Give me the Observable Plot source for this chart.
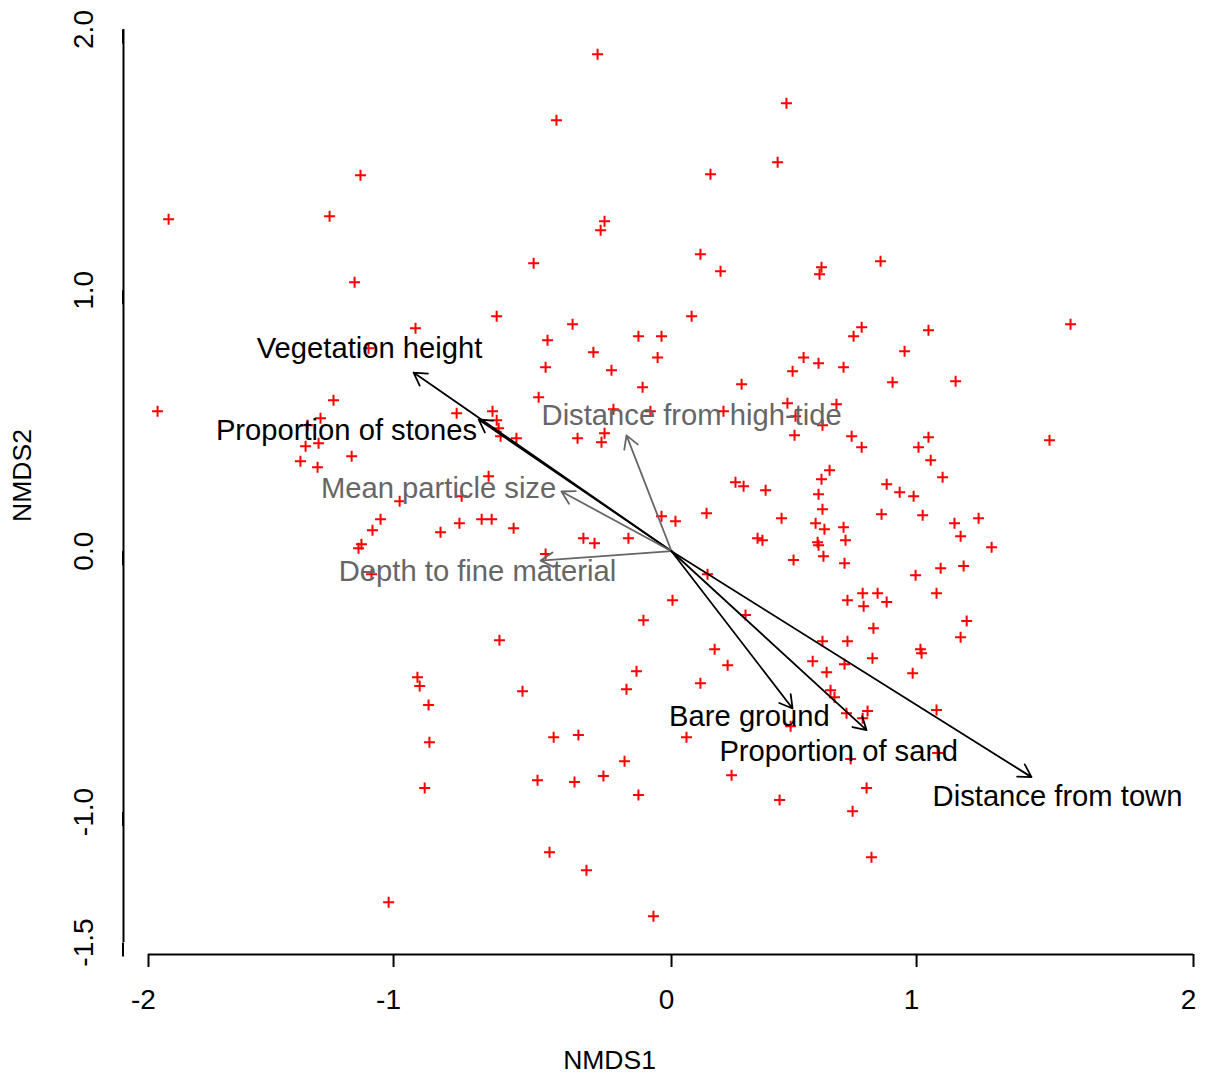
<!DOCTYPE html>
<html>
<head>
<meta charset="utf-8">
<script src="https://cdn.jsdelivr.net/npm/d3@7"></script>
<script src="https://cdn.jsdelivr.net/npm/@observablehq/plot@0.6"></script>
<style>
  body { margin: 0; background: #fff; }
  #chart svg { display: block; }
</style>
</head>
<body>
<div id="chart"></div>
<script>
// NMDS site scores (axis 1 and axis 2)
const siteX = [
  -0.266, 0.469, -0.414, 0.433, 0.159, -1.135, -1.918, -1.261, -0.241, -0.255,
  0.118, -0.496, 0.853, 0.200, 0.612, 0.604, -1.159, -0.629, 0.082, -0.356,
  0.776, 1.556, 1.043, -0.921, -0.446, -0.119, -0.036, 0.743, -1.102, -0.281,
  -0.050, 0.539, 0.951, -0.216, -0.453, 0.494, 0.600, 0.702, -0.104, -0.478,
  0.286, 0.902, 1.141, -1.245, 0.673, 0.473, -1.298, -1.351, -0.773, -0.644,
  -0.629, -0.622, -0.615, -0.558, -0.338, -0.241, -0.252, -0.209, -0.076, 0.212,
  0.506, 0.502, 0.616, 0.735, 0.776, 1.007, 1.043, 1.480, 1.051, 1.094,
  0.988, 0.931, 0.878, -1.171, -1.380, -1.310, -1.359, -1.306, -0.658, -0.755,
  0.261, 0.294, 0.384, 0.612, 0.600, 0.645, -0.978, -1.053, -1.086, -1.131,
  -1.143, -0.831, -0.763, -0.683, -0.647, -0.568, -0.317, -0.277, -0.155, -0.036,
  0.016, 0.143, 0.449, 0.351, 0.371, 0.588, 0.616, 0.624, 0.702, 0.710,
  0.596, 0.600, 0.857, 1.022, 1.137, 1.159, 1.224, 1.271, -0.453, -1.090,
  0.147, 0.498, 0.620, 0.706, 0.996, 0.004, 0.302, 0.718, 0.780, 0.841,
  0.784, 0.878, 1.087, 1.072, 1.170, -0.101, 1.181, 0.824, 0.718, 0.616,
  1.014, 1.018, 1.159, -0.619, 0.176, 0.229, -0.126, -0.162, 0.118, 0.576,
  0.706, 0.820, 0.984, -0.914, -0.906, -0.874, -0.536, 0.633, 0.649, 0.665,
  1.072, 0.800, 0.780, 0.714, -0.871, -0.424, -0.335, 0.061, 0.486, 0.245,
  1.076, 0.731, -0.169, -0.245, -0.482, -0.349, -0.888, -0.119, 0.441, 0.796,
  0.739, -0.439, -0.306, 0.816, -1.020, -0.065, -1.963
];
const siteY = [
  1.905, 1.717, 1.652, 1.491, 1.445, 1.441, 1.273, 1.284, 1.265, 1.230,
  1.138, 1.104, 1.112, 1.073, 1.089, 1.062, 1.031, 0.901, 0.901, 0.870,
  0.859, 0.870, 0.847, 0.855, 0.809, 0.824, 0.824, 0.824, 0.778, 0.763,
  0.743, 0.743, 0.767, 0.694, 0.705, 0.690, 0.721, 0.705, 0.629, 0.590,
  0.640, 0.648, 0.652, 0.579, 0.563, 0.567, 0.510, 0.483, 0.529, 0.537,
  0.502, 0.471, 0.441, 0.433, 0.433, 0.452, 0.418, 0.544, 0.537, 0.537,
  0.517, 0.445, 0.483, 0.441, 0.399, 0.399, 0.437, 0.425, 0.349, 0.284,
  0.211, 0.226, 0.257, 0.364, 0.345, 0.322, 0.402, 0.414, 0.287, 0.211,
  0.264, 0.249, 0.234, 0.276, 0.218, 0.310, 0.192, 0.123, 0.080, 0.027,
  0.011, 0.073, 0.107, 0.123, 0.123, 0.088, 0.050, 0.031, 0.050, 0.134,
  0.115, 0.146, 0.126, 0.050, 0.042, 0.107, 0.161, 0.084, 0.092, 0.042,
  0.034, 0.023, 0.142, 0.138, 0.107, 0.057, 0.126, 0.015, -0.011, -0.088,
  -0.088, -0.034, -0.019, -0.046, -0.092, -0.188, -0.245, -0.188, -0.161, -0.161,
  -0.211, -0.195, -0.065, -0.161, -0.057, -0.265, -0.268, -0.295, -0.345, -0.345,
  -0.376, -0.391, -0.330, -0.341, -0.376, -0.437, -0.460, -0.529, -0.506, -0.422,
  -0.433, -0.410, -0.468, -0.483, -0.517, -0.590, -0.537, -0.464, -0.533, -0.560,
  -0.609, -0.613, -0.640, -0.621, -0.732, -0.713, -0.705, -0.713, -0.671, -0.859,
  -0.774, -0.797, -0.805, -0.862, -0.878, -0.885, -0.908, -0.935, -0.954, -0.908,
  -0.997, -1.154, -1.223, -1.173, -1.346, -1.399, 0.537
];

// Fitted environmental vectors (arrow tips) and where their names sit
const vectorNames = [
  "Vegetation height", "Proportion of stones", "Distance from high-tide",
  "Mean particle size", "Depth to fine material", "Bare ground",
  "Proportion of sand", "Distance from town"
];
const vectorX = [-0.928, -0.694, -0.162, -0.396, -0.471, 0.494, 0.796, 1.415];
const vectorY = [0.685, 0.505, 0.444, 0.229, -0.036, -0.603, -0.686, -0.866];
const vectorLabelX = [-1.098, -1.192, 0.082, -0.838, -0.698, 0.318, 0.682, 1.509];
const vectorLabelY = [0.778, 0.464, 0.521, 0.241, -0.080, -0.636, -0.767, -0.939];
const vectorSignificant = [true, true, false, false, false, true, true, true];

const xTicks = [-2, -1, 0, 1, 2];
const yTicks = [-1.5, -1, 0, 1, 2];

// The horizontal axis is laid out unevenly: each unit step gets its own
// width. xWarp maps an NMDS1 value onto the evenly spaced x scale.
const xWarp = d3.scaleLinear().domain(xTicks).range([-2, -1.062, 0.002, 0.940, 2]);

const sites = siteX.map((x, i) => ({x, y: siteY[i]}));
const vectors = vectorNames.map((name, i) => ({
  name, x: vectorX[i], y: vectorY[i],
  lx: vectorLabelX[i], ly: vectorLabelY[i], sig: vectorSignificant[i]
}));

const ink = d => d.sig ? "#000000" : "#666666";

// stroked "+" marker (pch = 3)
const plusSymbol = {
  draw(context, size) {
    const r = Math.sqrt(size / Math.PI);
    context.moveTo(-r, 0); context.lineTo(r, 0);
    context.moveTo(0, -r); context.lineTo(0, r);
  }
};

const font = "'Liberation Sans', Arial, Helvetica, sans-serif";
const xFirst = xTicks[0], xLast = xTicks[xTicks.length - 1];
const yFirst = yTicks[0], yLast = yTicks[yTicks.length - 1];

const chart = Plot.plot({
  width: 1205,
  height: 1077,
  marginLeft: 123,
  marginRight: 110,
  marginTop: 0,
  marginBottom: 123,
  style: {fontFamily: font, background: "#fff", color: "#000"},
  x: {domain: [xFirst, xLast], range: [148, 1193]},
  y: {domain: [yFirst, yLast], range: [942, 29]},
  marks: [
    // axis lines spanning the first to the last tick
    Plot.ruleX([xWarp(xFirst)], {y1: yFirst, y2: yLast, dx: -25, stroke: "#000", strokeWidth: 2}),
    Plot.ruleY([yFirst], {x1: xWarp(xFirst), x2: xWarp(xLast), dy: 12, stroke: "#000", strokeWidth: 2}),
    // x tick marks, then their labels (set slightly left of the marks)
    Plot.axisX(xTicks.map(xWarp), {
      tickSize: 13, strokeWidth: 2, tickFormat: () => "", label: null
    }),
    Plot.axisX(xTicks.map(xWarp), {
      tickSize: 0, tickPadding: 35, fontSize: 28, dx: -5,
      tickFormat: d => String(Math.round(xWarp.invert(d))), label: null
    }),
    Plot.axisY(yTicks, {
      tickSize: 14, tickPadding: 25, fontSize: 28, strokeWidth: 2,
      rotate: -90, textAnchor: "middle", lineAnchor: "middle",
      tickFormat: d => d.toFixed(1), label: null
    }),
    Plot.text(["NMDS1"], {frameAnchor: "bottom", dy: 106, fontSize: 26.5, textAnchor: "middle", lineAnchor: "middle"}),
    Plot.text(["NMDS2"], {frameAnchor: "left", dx: -101, dy: -2, rotate: -90, fontSize: 26.5, textAnchor: "middle", lineAnchor: "middle"}),

    // sites
    Plot.dot(sites, {x: d => xWarp(d.x), y: "y", symbol: plusSymbol, r: 5.5, stroke: "#ff0000", strokeWidth: 2, fill: "none"}),

    // environmental vectors
    Plot.arrow(vectors, {
      x1: () => xWarp(0), y1: () => 0, x2: d => xWarp(d.x), y2: "y",
      stroke: ink, strokeWidth: 1.8, headLength: 12, headAngle: 60
    }),
    Plot.text(vectors, {
      x: d => xWarp(d.lx), y: "ly", text: "name", fill: ink, fontSize: 29.2,
      lineAnchor: "middle", textAnchor: "middle"
    })
  ]
});

document.getElementById("chart").appendChild(chart);
</script>
</body>
</html>
